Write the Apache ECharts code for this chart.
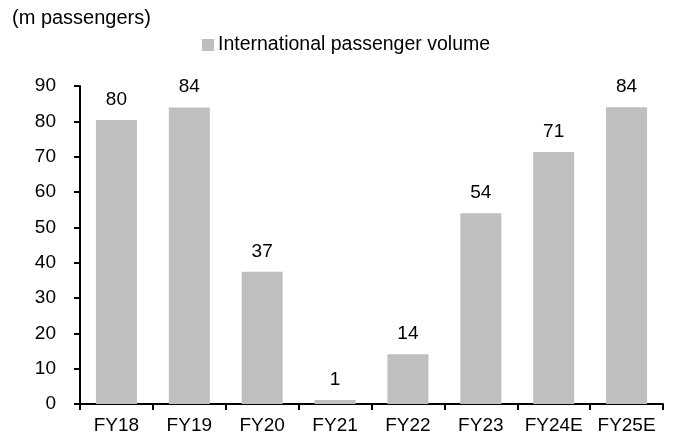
<!DOCTYPE html>
<html>
<head>
<meta charset="utf-8">
<script src="https://cdn.jsdelivr.net/npm/echarts@6/dist/echarts.min.js"></script>
<style>html,body{margin:0;padding:0;background:#fff;}#c{width:674px;height:441px;}</style>
</head>
<body>
<div id="c"></div>
<script>
const categories = ['FY18','FY19','FY20','FY21','FY22','FY23','FY24E','FY25E'];
const volumes = [80.4, 83.9, 37.4, 1.1, 14.1, 54.0, 71.3, 84.0];
const yTicks = {min: 0, max: 90, interval: 10};

const chart = echarts.init(document.getElementById('c'));
const font = '"Liberation Sans", Arial, sans-serif';
chart.setOption({
  animation: false,
  textStyle: {fontFamily: font},
  title: {
    text: '(m passengers)', left: 12, top: 8, padding: 0,
    textStyle: {fontFamily: font, fontSize: 20, fontWeight: 'normal', color: '#000'}
  },
  legend: {
    data: ['International passenger volume'], top: 35, left: 202, padding: 0,
    itemWidth: 12, itemHeight: 12, itemGap: 4,
    icon: 'rect',
    textStyle: {fontFamily: font, fontSize: 19.5, color: '#000', padding: [0, 0, 0, -1]}
  },
  grid: {left: 80, right: 11, top: 86, bottom: 37},
  xAxis: {
    type: 'category', data: categories,
    axisLine: {lineStyle: {color: '#000', width: 2}},
    axisTick: {show: true, alignWithLabel: false, length: 6, lineStyle: {color: '#000', width: 2}},
    axisLabel: {color: '#000', fontSize: 19, fontFamily: font, margin: 12, interval: 0}
  },
  yAxis: {
    type: 'value', min: yTicks.min, max: yTicks.max, interval: yTicks.interval,
    axisLine: {show: true, lineStyle: {color: '#000', width: 2}},
    axisTick: {show: true, length: 6, lineStyle: {color: '#000', width: 2}},
    splitLine: {show: false},
    axisLabel: {color: '#000', fontSize: 19, fontFamily: font, margin: 24}
  },
  series: [{
    name: 'International passenger volume',
    type: 'bar', data: volumes, barWidth: 41,
    itemStyle: {color: '#BFBFBF'},
    label: {
      show: true, position: 'top', distance: 11,
      color: '#000', fontSize: 19, fontFamily: font,
      formatter: p => Math.round(p.value)
    }
  }]
});
</script>
</body>
</html>
